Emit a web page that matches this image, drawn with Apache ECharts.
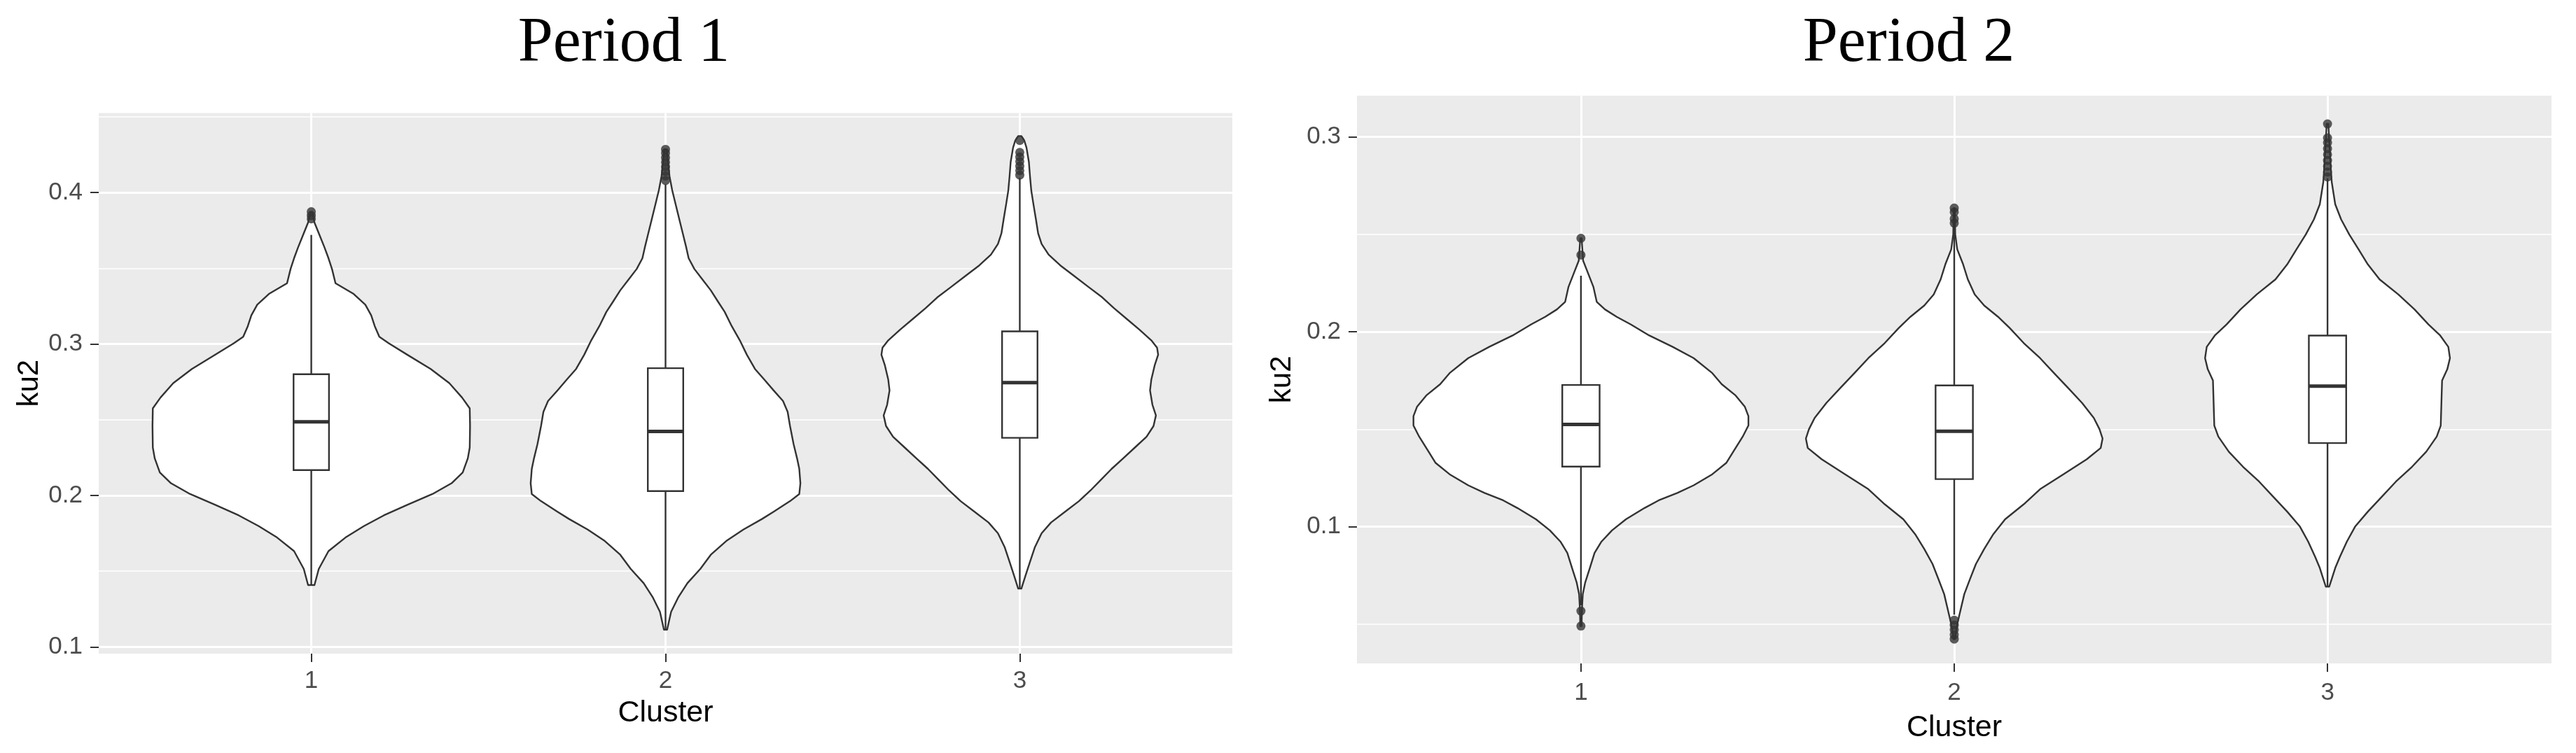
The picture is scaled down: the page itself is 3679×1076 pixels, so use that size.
<!DOCTYPE html>
<html>
<head>
<meta charset="utf-8">
<script src="https://cdn.jsdelivr.net/npm/echarts@6/dist/echarts.min.js"></script>
<style>
html,body{margin:0;padding:0;background:#fff;}
#chart{width:3679px;height:1076px;}
</style>
</head>
<body>
<div id="chart"></div>
<script>
// ---------- data ----------
const clusters = ['1', '2', '3'];
const titles = ['Period 1', 'Period 2'];
const xName = 'Cluster';
const yName = 'ku2';

// y tick labels
const p1Ticks = [0.1, 0.2, 0.3, 0.4];
const p1Minor = [0.15, 0.25, 0.35, 0.45];
const p2Ticks = [0.1, 0.2, 0.3];
const p2Minor = [0.05, 0.15, 0.25];
const p1Range = [0.0955, 0.4525];
const p2Range = [0.0298, 0.3212];

// violin density profiles: [ku2 value, relative width (1 = widest violin)]
const p1Violin1 = [[0.1408,0.02],[0.1514,0.047],[0.1632,0.108],[0.1726,0.22],[0.1797,0.33],[0.1868,0.455],[0.1939,0.605],[0.2009,0.76],[0.208,0.88],[0.2151,0.95],[0.2245,0.982],[0.2316,0.994],[0.2458,0.996],[0.2575,0.994],[0.2646,0.946],[0.2741,0.866],[0.2835,0.749],[0.2929,0.602],[0.3005,0.486],[0.3047,0.427],[0.3118,0.398],[0.3189,0.376],[0.3259,0.339],[0.333,0.266],[0.3401,0.152],[0.3495,0.13],[0.3566,0.108],[0.3637,0.083],[0.3731,0.047],[0.3802,0.02],[0.3873,0.005]];
const p1Violin2 = [[0.1113,0.01],[0.1231,0.035],[0.1325,0.079],[0.142,0.137],[0.1514,0.218],[0.1608,0.284],[0.1703,0.386],[0.1774,0.488],[0.1844,0.605],[0.1892,0.678],[0.1962,0.781],[0.2009,0.839],[0.208,0.846],[0.2175,0.839],[0.2245,0.825],[0.234,0.803],[0.2458,0.781],[0.2552,0.766],[0.2623,0.737],[0.2693,0.678],[0.2764,0.62],[0.2835,0.561],[0.2929,0.51],[0.3024,0.466],[0.3118,0.415],[0.3212,0.371],[0.3283,0.327],[0.3354,0.284],[0.3425,0.232],[0.3495,0.181],[0.3566,0.145],[0.3637,0.13],[0.3731,0.108],[0.3825,0.086],[0.392,0.064],[0.4014,0.042],[0.4108,0.025],[0.4203,0.015],[0.4285,0.008]];
const p1Violin3 = [[0.1384,0.01],[0.1467,0.035],[0.1561,0.064],[0.1656,0.094],[0.175,0.137],[0.1821,0.196],[0.1892,0.284],[0.1962,0.371],[0.2033,0.444],[0.2104,0.51],[0.2175,0.576],[0.2245,0.649],[0.2316,0.722],[0.2387,0.795],[0.2458,0.839],[0.2528,0.854],[0.2599,0.832],[0.2693,0.817],[0.2764,0.825],[0.2858,0.846],[0.2929,0.868],[0.2976,0.861],[0.3024,0.825],[0.3094,0.751],[0.3165,0.671],[0.3236,0.591],[0.3307,0.518],[0.3377,0.43],[0.3448,0.342],[0.3519,0.254],[0.359,0.181],[0.366,0.137],[0.3731,0.115],[0.3825,0.101],[0.392,0.086],[0.4014,0.072],[0.4108,0.064],[0.4203,0.057],[0.4297,0.042],[0.4344,0.028],[0.4373,0.01]];

const p2Violin1 = [[0.049,0.004],[0.0577,0.006],[0.0654,0.011],[0.0712,0.025],[0.0788,0.053],[0.0865,0.081],[0.0923,0.122],[0.0981,0.185],[0.1038,0.268],[0.1096,0.379],[0.1135,0.463],[0.1173,0.574],[0.1212,0.671],[0.1269,0.782],[0.1327,0.865],[0.1385,0.907],[0.1462,0.963],[0.1519,0.997],[0.1567,0.997],[0.1615,0.976],[0.1673,0.921],[0.1731,0.838],[0.1788,0.782],[0.1865,0.671],[0.1923,0.546],[0.1981,0.407],[0.2038,0.296],[0.2077,0.213],[0.2115,0.143],[0.2154,0.094],[0.2231,0.074],[0.2308,0.039],[0.2365,0.013],[0.248,0.004]];
const p2Violin2 = [[0.0423,0.004],[0.05,0.018],[0.0577,0.039],[0.0654,0.06],[0.0731,0.094],[0.0808,0.129],[0.0885,0.178],[0.0962,0.233],[0.1038,0.303],[0.1115,0.414],[0.1192,0.511],[0.1269,0.65],[0.1346,0.789],[0.1404,0.872],[0.1452,0.883],[0.15,0.865],[0.1558,0.831],[0.1635,0.761],[0.1712,0.678],[0.1788,0.594],[0.1865,0.511],[0.1942,0.414],[0.2019,0.331],[0.2077,0.261],[0.2135,0.178],[0.2192,0.122],[0.2269,0.081],[0.2346,0.053],[0.2423,0.018],[0.25,0.006],[0.2635,0.003]];
const p2Violin3 = [[0.0692,0.01],[0.0731,0.025],[0.0788,0.046],[0.0846,0.074],[0.0923,0.115],[0.1,0.164],[0.1077,0.24],[0.1154,0.324],[0.1231,0.407],[0.1308,0.504],[0.1385,0.588],[0.1462,0.65],[0.1519,0.674],[0.1635,0.678],[0.175,0.682],[0.1808,0.713],[0.1865,0.729],[0.1923,0.719],[0.1981,0.671],[0.2038,0.601],[0.2115,0.518],[0.2192,0.421],[0.2269,0.31],[0.2346,0.24],[0.2423,0.185],[0.25,0.129],[0.2577,0.081],[0.2654,0.046],[0.2769,0.025],[0.29,0.015],[0.3067,0.005]];

// box stats: [lower whisker, Q1, median, Q3, upper whisker]
const p1Box = [[0.1408,0.2167,0.2486,0.28,0.372],[0.1113,0.2028,0.2422,0.284,0.4055],[0.1384,0.238,0.2745,0.3083,0.4097]];
const p2Box = [[0.0596,0.1308,0.1525,0.1727,0.2288],[0.0548,0.1244,0.149,0.1725,0.254],[0.0692,0.1429,0.1721,0.1981,0.2788]];

// outliers per cluster
const p1Outliers = [[0.3826,0.3848,0.3873],[0.408,0.411,0.414,0.417,0.42,0.423,0.426,0.4285],[0.4115,0.4145,0.4175,0.4205,0.4235,0.4265,0.4344]];
const p2Outliers = [[0.049,0.0567,0.2394,0.248],[0.0423,0.0445,0.047,0.0495,0.052,0.2558,0.258,0.2615,0.2635],[0.2795,0.282,0.285,0.288,0.291,0.294,0.297,0.2995,0.3067]];

// ---------- chart ----------
const VIOLIN_HALF = 0.45;
const BOX_HALF = 0.05;
const INK = '#333333';
const FONT = '"Liberation Sans", Arial, sans-serif';

function violinRender(profiles) {
  return function (params, api) {
    const prof = profiles[params.dataIndex];
    const cx = api.value(0);
    const right = prof.map(p => api.coord([cx + p[1] * VIOLIN_HALF, p[0]]));
    const left = prof.slice().reverse().map(p => api.coord([cx - p[1] * VIOLIN_HALF, p[0]]));
    return {
      type: 'polygon',
      shape: { points: right.concat(left) },
      style: { fill: '#ffffff', stroke: INK, lineWidth: 2.4, lineJoin: 'round' }
    };
  };
}

function boxRender(params, api) {
  const cx = api.value(0);
  const lo = api.value(1), q1 = api.value(2), med = api.value(3), q3 = api.value(4), hi = api.value(5);
  const pLo = api.coord([cx, lo]), pQ1 = api.coord([cx, q1]), pQ3 = api.coord([cx, q3]), pHi = api.coord([cx, hi]);
  const tl = api.coord([cx - BOX_HALF, q3]);
  const br = api.coord([cx + BOX_HALF, q1]);
  const mL = api.coord([cx - BOX_HALF, med]);
  const mR = api.coord([cx + BOX_HALF, med]);
  const ls = { stroke: INK, lineWidth: 2.4 };
  return {
    type: 'group',
    children: [
      { type: 'line', shape: { x1: pHi[0], y1: pHi[1], x2: pQ3[0], y2: pQ3[1] }, style: ls },
      { type: 'line', shape: { x1: pQ1[0], y1: pQ1[1], x2: pLo[0], y2: pLo[1] }, style: ls },
      { type: 'rect', shape: { x: tl[0], y: tl[1], width: br[0] - tl[0], height: br[1] - tl[1] },
        style: { fill: '#ffffff', stroke: INK, lineWidth: 2.4 } },
      { type: 'line', shape: { x1: mL[0], y1: mL[1], x2: mR[0], y2: mR[1] }, style: { stroke: INK, lineWidth: 5 } }
    ]
  };
}

function outlierData(list) {
  const out = [];
  list.forEach((vals, i) => vals.forEach(v => out.push([i + 1, v])));
  return out;
}

function xAxisCfg(gridIndex, labelMargin, nameGap) {
  return {
    type: 'value', gridIndex, min: 0.4, max: 3.6,
    axisLine: { show: false },
    axisTick: { show: true, length: 12, lineStyle: { color: INK, width: 2 }, customValues: [1, 2, 3] },
    axisLabel: { show: true, customValues: [1, 2, 3], margin: labelMargin,
      formatter: v => clusters[Math.round(v) - 1], color: '#4D4D4D', fontSize: 35, fontFamily: FONT },
    splitLine: { show: true, lineStyle: { color: '#ffffff', width: 3 } },
    name: xName, nameLocation: 'middle', nameGap,
    nameTextStyle: { color: '#000', fontSize: 43, fontFamily: FONT }
  };
}

function yAxisCfg(gridIndex, range, ticks, nameGap) {
  return {
    type: 'value', gridIndex, min: range[0], max: range[1],
    axisLine: { show: false },
    axisTick: { show: true, length: 12, lineStyle: { color: INK, width: 2 }, customValues: ticks },
    axisLabel: { show: true, customValues: ticks, margin: 23,
      formatter: v => v.toFixed(1), color: '#4D4D4D', fontSize: 35, fontFamily: FONT },
    splitLine: { show: true, lineStyle: { color: '#ffffff', width: 3 } },
    name: yName, nameLocation: 'middle', nameGap,
    nameTextStyle: { color: '#000', fontSize: 42, fontFamily: FONT }
  };
}

function yMinorCfg(gridIndex, range, minor) {
  return {
    type: 'value', gridIndex, min: range[0], max: range[1],
    axisLine: { show: false },
    axisTick: { show: false, customValues: minor },
    axisLabel: { show: false, customValues: minor },
    splitLine: { show: true, lineStyle: { color: '#ffffff', width: 1.6 } }
  };
}

const chart = echarts.init(document.getElementById('chart'), null, { renderer: 'canvas' });

const titleStyle = { color: '#000', fontSize: 90, fontWeight: 'normal', fontFamily: '"Liberation Serif", "Times New Roman", serif' };

chart.setOption({
  backgroundColor: '#ffffff',
  animation: false,
  title: [
    { text: titles[0], left: 891, top: 63, textAlign: 'center', textVerticalAlign: 'middle', padding: 0, textStyle: titleStyle },
    { text: titles[1], left: 2726, top: 63, textAlign: 'center', textVerticalAlign: 'middle', padding: 0, textStyle: titleStyle }
  ],
  grid: [
    { left: 141, top: 161.5, width: 1619, height: 772.5, show: true, backgroundColor: '#EBEBEB', borderWidth: 0, containLabel: false },
    { left: 1938, top: 136.7, width: 1706, height: 811.3, show: true, backgroundColor: '#EBEBEB', borderWidth: 0, containLabel: false }
  ],
  xAxis: [xAxisCfg(0, 22, 64), xAxisCfg(1, 25, 71)],
  yAxis: [
    yAxisCfg(0, p1Range, p1Ticks, 78),
    yMinorCfg(0, p1Range, p1Minor),
    yAxisCfg(1, p2Range, p2Ticks, 86),
    yMinorCfg(1, p2Range, p2Minor)
  ],
  series: [
    { type: 'custom', xAxisIndex: 0, yAxisIndex: 0, renderItem: violinRender([p1Violin1, p1Violin2, p1Violin3]),
      data: clusters.map((c, i) => [i + 1]), z: 2, silent: true },
    { type: 'custom', xAxisIndex: 0, yAxisIndex: 0, renderItem: boxRender,
      data: p1Box.map((b, i) => [i + 1].concat(b)), z: 3, silent: true },
    { type: 'scatter', xAxisIndex: 0, yAxisIndex: 0, data: outlierData(p1Outliers),
      symbol: 'circle', symbolSize: 13, itemStyle: { color: INK }, z: 4, silent: true },
    { type: 'custom', xAxisIndex: 1, yAxisIndex: 2, renderItem: violinRender([p2Violin1, p2Violin2, p2Violin3]),
      data: clusters.map((c, i) => [i + 1]), z: 2, silent: true },
    { type: 'custom', xAxisIndex: 1, yAxisIndex: 2, renderItem: boxRender,
      data: p2Box.map((b, i) => [i + 1].concat(b)), z: 3, silent: true },
    { type: 'scatter', xAxisIndex: 1, yAxisIndex: 2, data: outlierData(p2Outliers),
      symbol: 'circle', symbolSize: 13, itemStyle: { color: INK }, z: 4, silent: true }
  ]
});
</script>
</body>
</html>
